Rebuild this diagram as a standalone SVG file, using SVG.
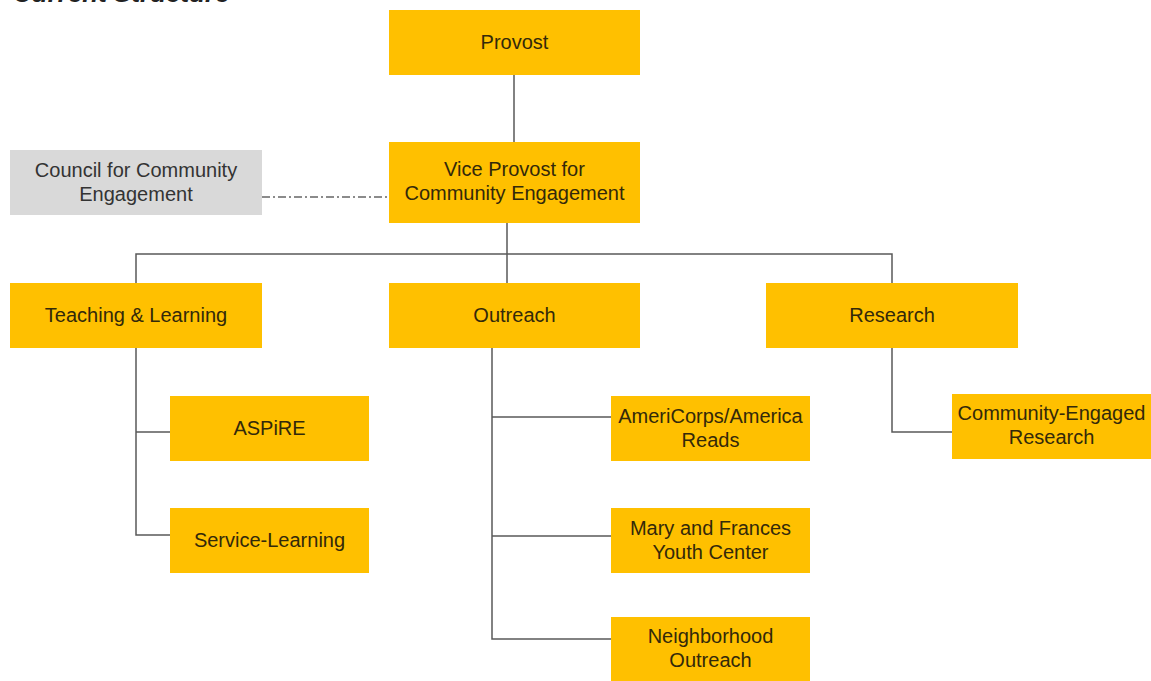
<svg xmlns="http://www.w3.org/2000/svg" width="1151" height="681" viewBox="0 0 1151 681">
<style>
.box{fill:#FFC000;}
.gray{fill:#D9D9D9;}
.t{font-family:"Liberation Sans",Arial,sans-serif;font-size:20px;fill:#33290a;text-anchor:middle;}
.g{fill:#333333;}
.ln{stroke:#595959;stroke-width:1.5;fill:none;}
.dd{stroke:#666666;stroke-width:1.5;fill:none;stroke-dasharray:8 3 2 3;}
.title{font-family:"Liberation Sans",Arial,sans-serif;font-size:26px;font-weight:bold;font-style:italic;fill:#222;}
</style>
<rect width="1151" height="681" fill="#ffffff"/>
<text class="title" x="13" y="2">Current Structure</text>
<g id="connectors">
<line class="ln" x1="514" y1="75" x2="514" y2="142"/>
<line class="dd" x1="262" y1="197" x2="389" y2="197"/>
<line class="ln" x1="507" y1="223" x2="507" y2="283"/>
<polyline class="ln" points="136,283 136,254 892,254 892,283"/>
<polyline class="ln" points="136,348 136,535 170,535"/>
<line class="ln" x1="136" y1="432" x2="170" y2="432"/>
<polyline class="ln" points="492,348 492,639 611,639"/>
<line class="ln" x1="492" y1="417" x2="611" y2="417"/>
<line class="ln" x1="492" y1="536" x2="611" y2="536"/>
<polyline class="ln" points="892,348 892,432 952,432"/>
</g>
<g id="provost"><rect class="box" x="389" y="10" width="251" height="65"/><text class="t" x="514.5" y="49">Provost</text></g>
<g id="vice-provost"><rect class="box" x="389" y="142" width="251" height="81"/><text class="t" x="514.5" y="176">Vice Provost for</text><text class="t" x="514.5" y="200">Community Engagement</text></g>
<g id="council"><rect class="gray" x="10" y="150" width="252" height="65"/><text class="t g" x="136" y="177">Council for Community</text><text class="t g" x="136" y="201">Engagement</text></g>
<g id="teaching"><rect class="box" x="10" y="283" width="252" height="65"/><text class="t" x="136" y="322">Teaching &amp; Learning</text></g>
<g id="outreach"><rect class="box" x="389" y="283" width="251" height="65"/><text class="t" x="514.5" y="322">Outreach</text></g>
<g id="research"><rect class="box" x="766" y="283" width="252" height="65"/><text class="t" x="892" y="322">Research</text></g>
<g id="aspire"><rect class="box" x="170" y="396" width="199" height="65"/><text class="t" x="269.5" y="435">ASPiRE</text></g>
<g id="service-learning"><rect class="box" x="170" y="508" width="199" height="65"/><text class="t" x="269.5" y="547">Service-Learning</text></g>
<g id="americorps"><rect class="box" x="611" y="396" width="199" height="65"/><text class="t" x="710.5" y="423">AmeriCorps/America</text><text class="t" x="710.5" y="447">Reads</text></g>
<g id="mary-frances"><rect class="box" x="611" y="508" width="199" height="65"/><text class="t" x="710.5" y="535">Mary and Frances</text><text class="t" x="710.5" y="559">Youth Center</text></g>
<g id="neighborhood"><rect class="box" x="611" y="617" width="199" height="65"/><text class="t" x="710.5" y="643">Neighborhood</text><text class="t" x="710.5" y="667">Outreach</text></g>
<g id="community-engaged"><rect class="box" x="952" y="394" width="199" height="65"/><text class="t" x="1051.5" y="420">Community-Engaged</text><text class="t" x="1051.5" y="444">Research</text></g>
</svg>
